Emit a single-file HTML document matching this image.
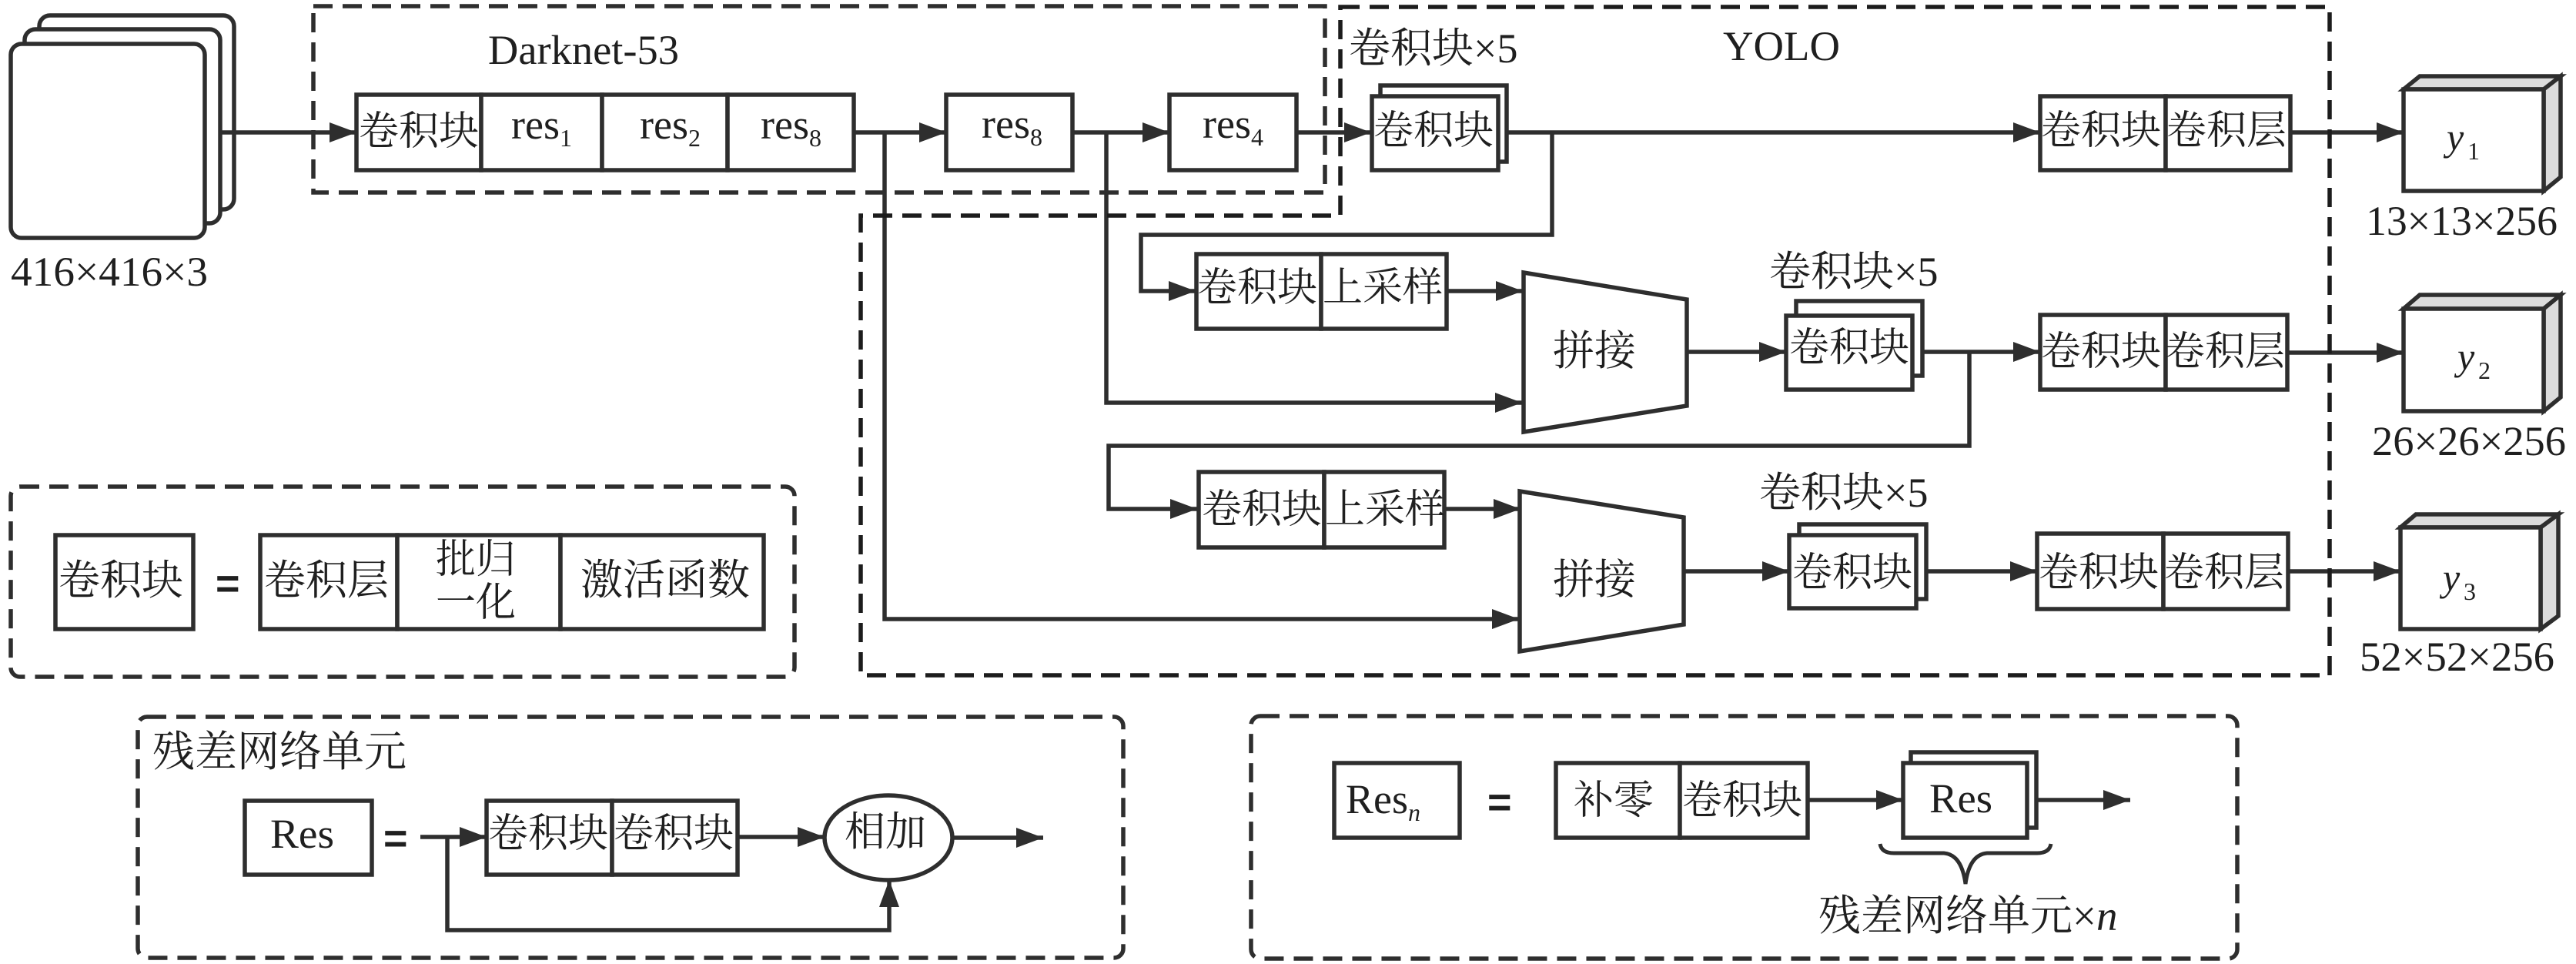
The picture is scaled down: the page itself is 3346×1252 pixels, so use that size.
<!DOCTYPE html>
<html><head><meta charset="utf-8">
<style>
html,body{margin:0;padding:0;background:#fff;width:3346px;height:1252px;overflow:hidden}
svg{display:block}
text{font-family:"Liberation Serif","Noto Serif CJK SC",serif;fill:#1f1f1f;font-size:52px}
.l{font-size:54px}
.s{font-size:32px}
.i{font-style:italic}
.b{fill:#fff;stroke:#2e2e2e;stroke-width:5.5}
.w{fill:none;stroke:#2e2e2e;stroke-width:5.5}
.d{fill:none;stroke:#2e2e2e;stroke-width:5.5;stroke-dasharray:25 13}
.g{fill:#dcdcdc;stroke:#2e2e2e;stroke-width:5.5;stroke-linejoin:miter}
</style></head><body>
<svg xmlns="http://www.w3.org/2000/svg" width="3346" height="1252" viewBox="0 0 3346 1252">
<defs>
<marker id="a" markerUnits="userSpaceOnUse" markerWidth="36" markerHeight="28" refX="35" refY="14" orient="auto"><path d="M0,1 L35,14 L0,27 z" fill="#2e2e2e"/></marker>
</defs>

<!-- input stack -->
<rect class="b" x="51" y="20" width="253" height="252" rx="14"/>
<rect class="b" x="32" y="38" width="254" height="252" rx="14"/>
<rect class="b" x="14" y="57" width="252" height="252" rx="14"/>
<text class="l" x="14" y="371" textLength="256" lengthAdjust="spacingAndGlyphs">416×416×3</text>

<!-- connectors -->
<g class="w">
<path d="M286,172 H463" marker-end="url(#a)"/>
<path d="M1109,172 H1229" marker-end="url(#a)"/>
<path d="M1393,172 H1519" marker-end="url(#a)"/>
<path d="M1684,172 H1781" marker-end="url(#a)"/>
<path d="M1149,172 V804 H1973" marker-end="url(#a)"/>
<path d="M1437,172 V523 H1977" marker-end="url(#a)"/>
<path d="M1946,172 H2650" marker-end="url(#a)"/>
<path d="M2016,172 V305 H1482 V378 H1553" marker-end="url(#a)"/>
<path d="M1879,378 H1978" marker-end="url(#a)"/>
<path d="M2191,457 H2320" marker-end="url(#a)"/>
<path d="M2484,457 H2650" marker-end="url(#a)"/>
<path d="M2558,457 V579 H1440 V661 H1555" marker-end="url(#a)"/>
<path d="M1876,661 H1975" marker-end="url(#a)"/>
<path d="M2187,742 H2324" marker-end="url(#a)"/>
<path d="M2489,742 H2646" marker-end="url(#a)"/>
<path d="M2975,172 H3122" marker-end="url(#a)"/>
<path d="M2971,458 H3122" marker-end="url(#a)"/>
<path d="M2972,742 H3118" marker-end="url(#a)"/>
<path d="M546,1087 H632" marker-end="url(#a)"/>
<path d="M958,1087 H1071" marker-end="url(#a)"/>
<path d="M581,1087 V1208 H1155 V1143" marker-end="url(#a)"/>
<path d="M1236,1088 H1355" marker-end="url(#a)"/>
<path d="M2348,1039 H2472" marker-end="url(#a)"/>
<path d="M2633,1039 H2767" marker-end="url(#a)"/>
</g>

<!-- dashed groups -->
<rect class="d" x="407" y="8" width="1314" height="242"/>
<path class="d" style="stroke:#1c1c1c" d="M1741,9 H3026 V877 H1118 V280 H1741 Z"/>
<rect class="d" x="14" y="632" width="1018" height="247" rx="12"/>
<rect class="d" x="179" y="931" width="1280" height="313" rx="12"/>
<rect class="d" x="1625" y="930" width="1281" height="315" rx="12"/>

<!-- Darknet row -->
<text class="l" x="634" y="83" textLength="248" lengthAdjust="spacingAndGlyphs">Darknet-53</text>
<rect class="b" x="463" y="123" width="162" height="98"/>
<rect class="b" x="625" y="123" width="157" height="98"/>
<rect class="b" x="782" y="123" width="163" height="98"/>
<rect class="b" x="945" y="123" width="164" height="98"/>
<text x="466" y="188">卷积块</text>
<text class="l" x="664" y="180">res<tspan class="s" dy="10">1</tspan></text>
<text class="l" x="831" y="180">res<tspan class="s" dy="10">2</tspan></text>
<text class="l" x="988" y="180">res<tspan class="s" dy="10">8</tspan></text>
<rect class="b" x="1229" y="123" width="164" height="98"/>
<text class="l" x="1275" y="179">res<tspan class="s" dy="10">8</tspan></text>
<rect class="b" x="1519" y="123" width="165" height="98"/>
<text class="l" x="1562" y="179">res<tspan class="s" dy="10">4</tspan></text>

<!-- YOLO -->
<text class="l" x="2238" y="78" textLength="152" lengthAdjust="spacingAndGlyphs">YOLO</text>
<text class="l" x="1752" y="81">卷积块×5</text>
<rect class="b" x="1793" y="111" width="164" height="99"/>
<rect class="b" x="1782" y="125" width="164" height="96"/>
<text x="1784" y="187">卷积块</text>

<rect class="b" x="2650" y="125" width="163" height="96"/>
<rect class="b" x="2813" y="125" width="162" height="96"/>
<text x="2651" y="187">卷积块</text>
<text x="2814" y="187">卷积层</text>

<rect class="b" x="1554" y="330" width="162" height="97"/>
<rect class="b" x="1716" y="330" width="163" height="97"/>
<text x="1555" y="391">卷积块</text>
<text x="1718" y="391">上采样</text>

<polygon class="b" points="1979,354 2191,389 2191,527 1979,561"/>
<text class="l" x="2017" y="474">拼接</text>

<text class="l" x="2298" y="371">卷积块×5</text>
<rect class="b" x="2333" y="391" width="164" height="97"/>
<rect class="b" x="2320" y="410" width="164" height="96"/>
<text x="2324" y="469">卷积块</text>

<rect class="b" x="2650" y="409" width="163" height="97"/>
<rect class="b" x="2813" y="409" width="158" height="97"/>
<text x="2651" y="474">卷积块</text>
<text x="2812" y="474">卷积层</text>

<rect class="b" x="1557" y="613" width="163" height="98"/>
<rect class="b" x="1720" y="613" width="156" height="98"/>
<text x="1561" y="679">卷积块</text>
<text x="1721" y="679">上采样</text>

<polygon class="b" points="1974,638 2187,672 2187,811 1974,846"/>
<text class="l" x="2017" y="771">拼接</text>

<text class="l" x="2285" y="658">卷积块×5</text>
<rect class="b" x="2337" y="681" width="165" height="97"/>
<rect class="b" x="2324" y="695" width="165" height="95"/>
<text x="2328" y="761">卷积块</text>

<rect class="b" x="2646" y="693" width="164" height="98"/>
<rect class="b" x="2810" y="693" width="162" height="98"/>
<text x="2648" y="761">卷积块</text>
<text x="2811" y="761">卷积层</text>

<!-- cubes -->
<g>
<polygon class="g" points="3122,116 3143,99 3326,99 3304,116"/>
<polygon class="g" points="3304,116 3326,99 3326,230 3304,248"/>
<rect class="b" x="3122" y="116" width="182" height="132"/>
<text class="i" x="3178" y="195" style="font-size:50px">y</text><text class="s" x="3205" y="207">1</text>
<text class="l" x="3073" y="305" textLength="249" lengthAdjust="spacingAndGlyphs">13×13×256</text>

<polygon class="g" points="3122,401 3143,383 3326,383 3304,401"/>
<polygon class="g" points="3304,401 3326,383 3326,516 3304,534"/>
<rect class="b" x="3122" y="401" width="182" height="133"/>
<text class="i" x="3192" y="480" style="font-size:50px">y</text><text class="s" x="3219" y="492">2</text>
<text class="l" x="3081" y="591" textLength="252" lengthAdjust="spacingAndGlyphs">26×26×256</text>

<polygon class="g" points="3118,685 3138,668 3323,668 3300,685"/>
<polygon class="g" points="3300,685 3323,668 3323,800 3300,817"/>
<rect class="b" x="3118" y="685" width="182" height="132"/>
<text class="i" x="3173" y="767" style="font-size:50px">y</text><text class="s" x="3200" y="779">3</text>
<text class="l" x="3065" y="871" textLength="253" lengthAdjust="spacingAndGlyphs">52×52×256</text>
</g>

<!-- legend 1 -->
<rect class="b" x="72" y="695" width="179" height="122"/>
<text class="l" x="76" y="772">卷积块</text>
<text x="280" y="776" style="font-family:'Liberation Sans',sans-serif;font-size:54px;font-weight:bold">=</text>
<rect class="b" x="338" y="695" width="178" height="122"/>
<rect class="b" x="516" y="695" width="212" height="122"/>
<rect class="b" x="728" y="695" width="264" height="122"/>
<text class="l" x="343" y="772">卷积层</text>
<text x="566" y="744">批归</text>
<text x="566" y="800">一化</text>
<text x="754" y="772" style="font-size:55px">激活函数</text>

<!-- legend 2 -->
<text x="198" y="995" style="font-size:55px">残差网络单元</text>
<rect class="b" x="318" y="1040" width="165" height="96"/>
<text class="l" x="351" y="1101" textLength="83" lengthAdjust="spacingAndGlyphs">Res</text>
<text x="498" y="1107" style="font-family:'Liberation Sans',sans-serif;font-size:54px;font-weight:bold">=</text>
<rect class="b" x="632" y="1040" width="163" height="96"/>
<rect class="b" x="795" y="1040" width="163" height="96"/>
<text x="634" y="1100">卷积块</text>
<text x="797" y="1100">卷积块</text>
<ellipse class="b" cx="1154" cy="1088" rx="83" ry="55"/>
<text x="1097" y="1098" style="font-size:53px">相加</text>

<!-- legend 3 -->
<rect class="b" x="1733" y="991" width="163" height="97"/>
<text class="l" x="1748" y="1056">Res<tspan class="s i" dy="10">n</tspan></text>
<text x="1932" y="1060" style="font-family:'Liberation Sans',sans-serif;font-size:54px;font-weight:bold">=</text>
<rect class="b" x="2021" y="991" width="161" height="97"/>
<rect class="b" x="2182" y="991" width="166" height="97"/>
<text x="2044" y="1057">补零</text>
<text x="2185" y="1057">卷积块</text>
<rect class="b" x="2482" y="977" width="163" height="98"/>
<rect class="b" x="2472" y="991" width="161" height="97"/>
<text class="l" x="2506" y="1055" textLength="82" lengthAdjust="spacingAndGlyphs">Res</text>
<path d="M2442,1096 Q2444,1108 2460,1108 L2525,1108 Q2548,1110 2553,1148 Q2558,1110 2581,1108 L2646,1108 Q2662,1108 2664,1096" fill="none" stroke="#2e2e2e" stroke-width="5"/>
<text x="2362" y="1208" style="font-size:55px">残差网络单元×<tspan class="i">n</tspan></text>
</svg>
</body></html>
